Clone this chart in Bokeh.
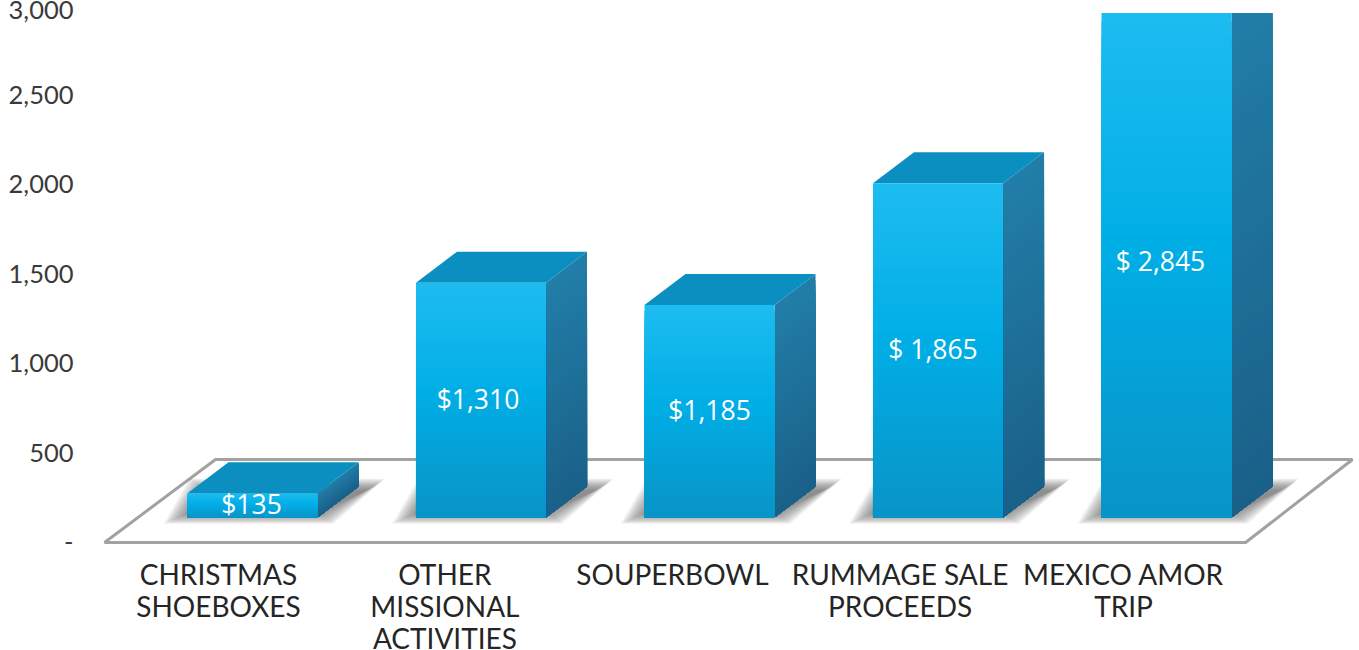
from bokeh.plotting import figure
from bokeh.models import FixedTicker
from bokeh.core.properties import value
from bokeh.embed import file_html
from bokeh.resources import INLINE

categories = ["CHRISTMAS\nSHOEBOXES", "OTHER\nMISSIONAL\nACTIVITIES", "SOUPERBOWL",
              "RUMMAGE SALE\nPROCEEDS", "MEXICO AMOR\nTRIP"]
amounts = [135, 1310, 1185, 1865, 2845]
amount_labels = ["$135", "$1,310", "$1,185", "$ 1,865", "$ 2,845"]
tick_values = [0, 500, 1000, 1500, 2000, 2500, 3000]
tick_text = {0: "-", 500: "500", 1000: "1,000", 1500: "1,500", 2000: "2,000", 2500: "2,500", 3000: "3,000"}

# layout, in data units of the two scales (1 x unit = one category step)
HALF = 0.2845
DX = 0.1795
DY = 173
BASE = 140
CUT = 2955  # the picture is cut off along its top edge
FONT_TICK = "25.5px"
FONT_CAT = "28px"

def mix(stops, t):
    for (t0, c0), (t1, c1) in zip(stops, stops[1:]):
        if t <= t1:
            f = (t - t0) / (t1 - t0)
            return "#%02x%02x%02x" % tuple(round(a + (b - a) * f) for a, b in zip(c0, c1))
    return "#%02x%02x%02x" % stops[-1][1]

def cut(y):
    return min(y, CUT)

FRONT = [(0, (29, 188, 240)), (0.45, (0, 174, 230)), (1, (10, 147, 197))]
SIDE = [(0, (33, 126, 168)), (1, (26, 96, 136))]
TOP = "#0b8fc0"
N = 36

p = figure(width=1359, height=650, output_backend="svg", toolbar_location=None,
           x_range=(-0.7615, 4.8446), y_range=(-602.7, 3024.6), x_axis_location=None,
           min_border=0, min_border_left=78, outline_line_color=None,
           background_fill_color="white", border_fill_color="white")
p.grid.visible = False

ax = p.yaxis[0]
ax.ticker = FixedTicker(ticks=tick_values)
ax.major_label_overrides = tick_text
ax.major_label_standoff = 5
ax.axis_line_color = None
ax.major_tick_line_color = None
ax.major_tick_out = 0
ax.major_tick_in = 0
ax.minor_tick_line_color = None
ax.major_label_text_font = "Lato"
ax.major_label_text_font_size = FONT_TICK
ax.major_label_text_color = "#3a3a3a"

# floor
p.patch([-0.6477, 4.346, 4.814, -0.162], [0, 0, 463, 463], fill_color="white",
        line_color="#a2a2a2", line_width=3)

# soft shadows
for i in range(len(amounts)):
    for k in range(14):
        ins = k * 0.0055
        iny = k * 5
        sx = [i - HALF - 0.105 + ins * 1.6, i + HALF + 0.07 - ins, i + HALF + DX + 0.115 - ins, i - HALF + 0.01 + ins]
        sy = [BASE - 36 + iny, BASE - 36 + iny, BASE + 216 - iny, BASE + 216 - iny]
        p.patch(sx, sy, fill_color="#5a5a5a", fill_alpha=0.07, line_color=None)

# bars
for i, v in enumerate(amounts):
    top = BASE + v
    x0, x1 = i - HALF, i + HALF
    for k in range(N):
        t = k / N
        y = top - t * v
        p.patch([x1, x1 + DX, x1 + DX, x1], [cut(y), cut(y + DY), BASE + DY, BASE],
                fill_color=mix(SIDE, t), line_color=None)
    if top + DY <= CUT:
        p.patch([x0, x1, x1 + DX, x0 + DX], [top, top, top + DY, top + DY],
                fill_color=TOP, line_color=None)
    for k in range(N):
        t = k / N
        p.quad(left=x0, right=x1, top=cut(top - t * v), bottom=BASE, fill_color=mix(FRONT, t), line_color=None)

# value labels, centred on the front faces
p.text([i for i in range(len(amounts))], [BASE + v / 2 for v in amounts], text=amount_labels,
       x_offset=[-1, -3, 0, -5, -6], y_offset=-1.5, text_align="center", text_baseline="middle",
       text_font=value("Open Sans"), text_font_size="26.5px", text_color="white")

# category labels
cat_x = [-0.149, -0.158, -0.162, -0.166, -0.188]
LINE = [32, 64, 96]
for i, cat in enumerate(categories):
    for j, line in enumerate(cat.split("\n")):
        p.text([i + cat_x[i]], [0], text=[line], y_offset=LINE[j], text_align="center",
               text_baseline="middle", text_font=value("Lato"), text_font_size=FONT_CAT, text_color="#252525")

open("out.html", "w").write(file_html(p, INLINE))
